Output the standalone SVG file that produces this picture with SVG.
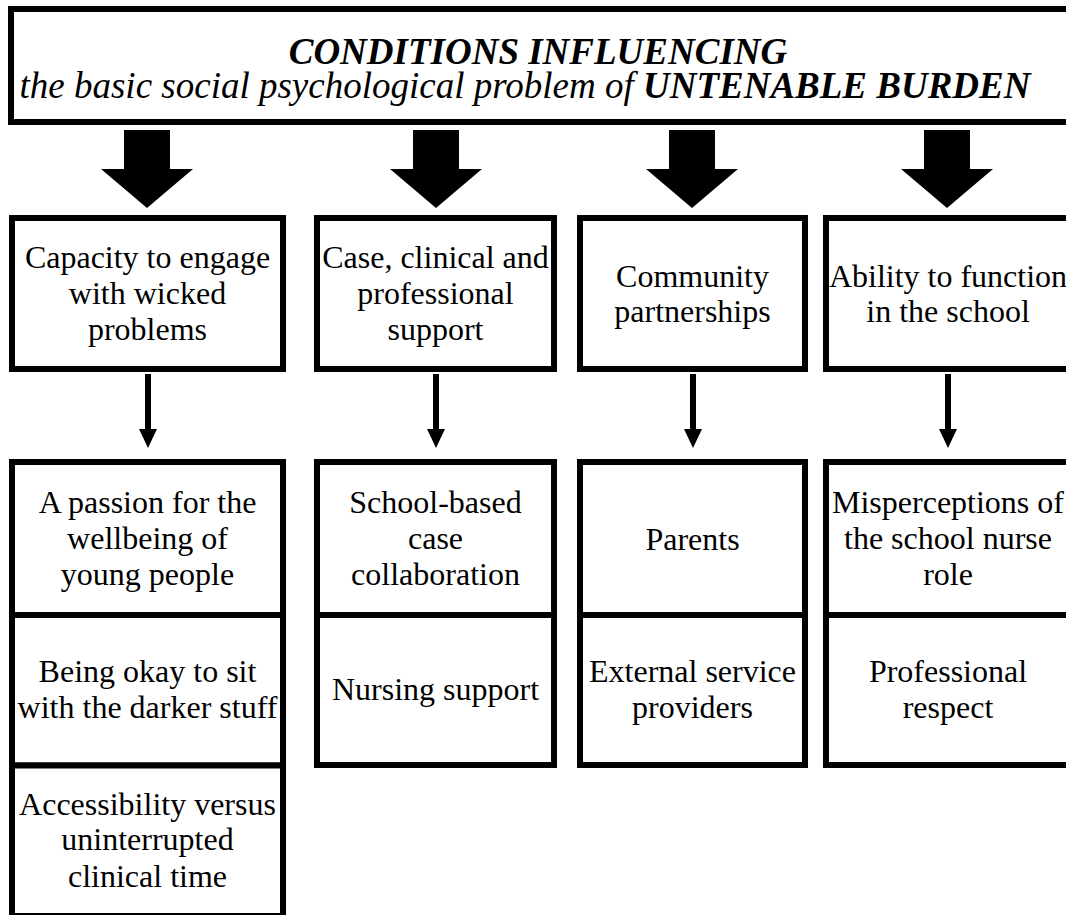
<svg xmlns="http://www.w3.org/2000/svg" width="1066" height="915" viewBox="0 0 1066 915">
  <defs>
    <style>
      .box { fill: #fff; stroke: #000; stroke-width: 6; }
      .lbl { font-family: "Liberation Serif", "Times New Roman", serif; font-size: 32px; fill: #000; text-anchor: middle; }
      .head { font-family: "Liberation Serif", "Times New Roman", serif; font-size: 37px; font-style: italic; fill: #000; text-anchor: middle; }
      .b { font-weight: bold; }
      .big { fill: #000; }
      .stem { stroke: #000; stroke-width: 6; }
    </style>
  </defs>
  <rect width="1066" height="915" fill="#fff"/>

  <!-- title banner -->
  <g id="title">
    <rect class="box" x="11" y="9" width="1080" height="113"/>
    <text class="head b" x="538" y="64">CONDITIONS INFLUENCING</text>
    <text class="head" x="525" y="98">the basic social psychological problem of <tspan class="b">UNTENABLE BURDEN</tspan></text>
  </g>

  <!-- connectors -->
  <g id="connectors">
    <polygon class="big" points="124,130 170,130 170,169 193,169 147,208 101,169 124,169"/>
    <polygon class="big" points="413,130 459,130 459,169 482,169 436,208 390,169 413,169"/>
    <polygon class="big" points="669,130 715,130 715,169 738,169 692,208 646,169 669,169"/>
    <polygon class="big" points="924,130 970,130 970,169 993,169 947,208 901,169 924,169"/>

    <line class="stem" x1="148" y1="374" x2="148" y2="432"/>
    <polygon class="big" points="139,429 157,429 148,448"/>
    <line class="stem" x1="436" y1="374" x2="436" y2="432"/>
    <polygon class="big" points="427,429 445,429 436,448"/>
    <line class="stem" x1="693" y1="374" x2="693" y2="432"/>
    <polygon class="big" points="684,429 702,429 693,448"/>
    <line class="stem" x1="948" y1="374" x2="948" y2="432"/>
    <polygon class="big" points="939,429 957,429 948,448"/>
  </g>

  <!-- upper row of condition boxes -->
  <g id="capacity">
    <rect class="box" x="12" y="218" width="271" height="151"/>
    <text class="lbl" x="147.5" y="268">Capacity to engage</text>
    <text class="lbl" x="147.5" y="304">with wicked</text>
    <text class="lbl" x="147.5" y="340">problems</text>
  </g>
  <g id="support">
    <rect class="box" x="317" y="218" width="237" height="151"/>
    <text class="lbl" x="435.5" y="268">Case, clinical and</text>
    <text class="lbl" x="435.5" y="304">professional</text>
    <text class="lbl" x="435.5" y="340">support</text>
  </g>
  <g id="community">
    <rect class="box" x="580" y="218" width="225" height="151"/>
    <text class="lbl" x="692.5" y="287">Community</text>
    <text class="lbl" x="692.5" y="322">partnerships</text>
  </g>
  <g id="ability">
    <rect class="box" x="826" y="218" width="260" height="151"/>
    <text class="lbl" x="948" y="287">Ability to function</text>
    <text class="lbl" x="948" y="322">in the school</text>
  </g>

  <!-- lower row: sub-conditions -->
  <g id="passion">
    <rect class="box" x="12" y="462" width="271" height="153"/>
    <text class="lbl" x="147.5" y="513">A passion for the</text>
    <text class="lbl" x="147.5" y="549">wellbeing of</text>
    <text class="lbl" x="147.5" y="585">young people</text>
  </g>
  <g id="darker-stuff">
    <rect class="box" x="12" y="615" width="271" height="150.5"/>
    <text class="lbl" x="147.5" y="682">Being okay to sit</text>
    <text class="lbl" x="147.5" y="718">with the darker stuff</text>
  </g>
  <g id="accessibility">
    <rect class="box" x="12" y="765.5" width="271" height="150.5"/>
    <text class="lbl" x="147.5" y="815">Accessibility versus</text>
    <text class="lbl" x="147.5" y="850">uninterrupted</text>
    <text class="lbl" x="147.5" y="887">clinical time</text>
  </g>

  <g id="case-collaboration">
    <rect class="box" x="317" y="462" width="237" height="153"/>
    <text class="lbl" x="435.5" y="513">School-based</text>
    <text class="lbl" x="435.5" y="549">case</text>
    <text class="lbl" x="435.5" y="585">collaboration</text>
  </g>
  <g id="nursing-support">
    <rect class="box" x="317" y="615" width="237" height="150"/>
    <text class="lbl" x="435.5" y="700">Nursing support</text>
  </g>

  <g id="parents">
    <rect class="box" x="580" y="462" width="225" height="153"/>
    <text class="lbl" x="692.5" y="550">Parents</text>
  </g>
  <g id="external-providers">
    <rect class="box" x="580" y="615" width="225" height="150"/>
    <text class="lbl" x="692.5" y="682">External service</text>
    <text class="lbl" x="692.5" y="718">providers</text>
  </g>

  <g id="misperceptions">
    <rect class="box" x="826" y="462" width="260" height="153"/>
    <text class="lbl" x="948" y="513">Misperceptions of</text>
    <text class="lbl" x="948" y="549">the school nurse</text>
    <text class="lbl" x="948" y="585">role</text>
  </g>
  <g id="respect">
    <rect class="box" x="826" y="615" width="260" height="150"/>
    <text class="lbl" x="948" y="682">Professional</text>
    <text class="lbl" x="948" y="718">respect</text>
  </g>
</svg>
